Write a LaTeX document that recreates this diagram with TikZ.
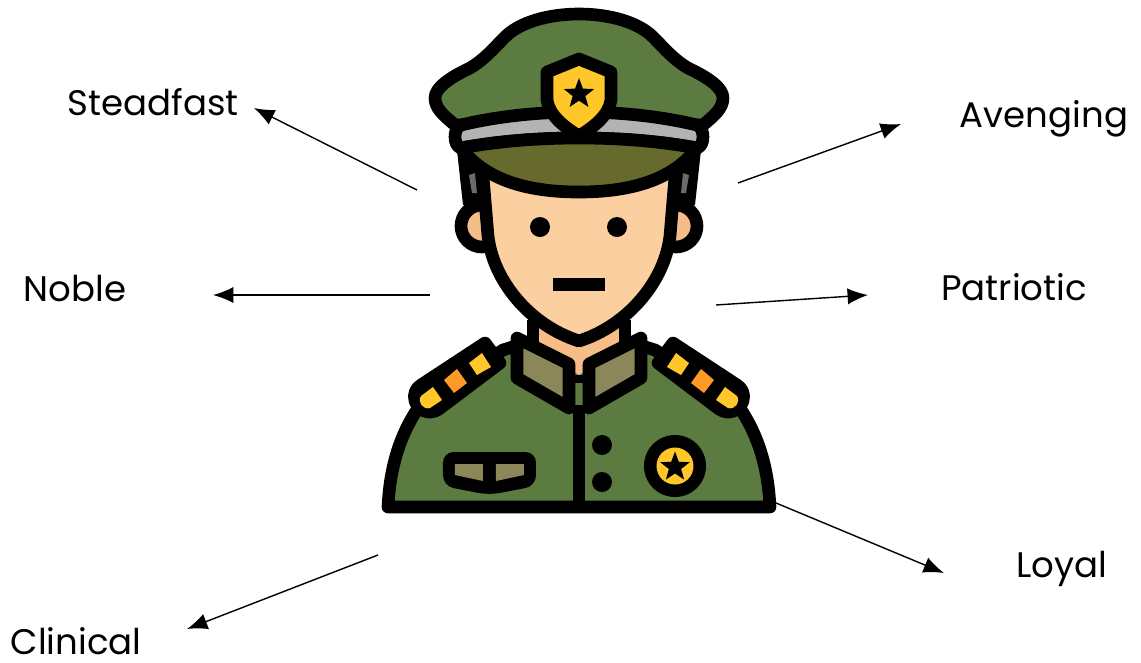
\documentclass[tikz,border=0pt]{standalone}
\usepackage{fontspec}
\setmainfont{Poppins}
\usetikzlibrary{arrows.meta,shapes.geometric}
\definecolor{armygreen}{RGB}{91,123,65}
\definecolor{visorgreen}{RGB}{102,106,44}
\definecolor{khaki}{RGB}{139,135,91}
\definecolor{skin}{RGB}{251,207,160}
\definecolor{skindark}{RGB}{247,189,137}
\definecolor{badgeyellow}{RGB}{255,199,41}
\definecolor{badgeorange}{RGB}{255,154,38}
\definecolor{bandgray}{RGB}{179,179,179}
\definecolor{hairgray}{RGB}{107,107,107}

\begin{document}
\begin{tikzpicture}[x=0.01cm, y=-0.01cm,
    outline/.style={draw=black, line width=3.6pt, line join=round},
    starmark/.style={star, star points=5, star point ratio=2.4, fill=black, inner sep=0pt},
    trait/.style={font=\fontsize{10.1pt}{12pt}\selectfont, text=black, inner sep=0pt},
    pointer/.style={-{Latex[length=5.8pt,width=4.6pt]}, line width=0.4pt}]

    \useasboundingbox (0,0) rectangle (1141,663);

    \begin{scope}[shift={(579,0)}]
    % Body
    \draw[outline, fill=armygreen] (-191,507) .. controls (-189,465) and (-178,430) .. (-155,400)
        -- (-76,350) -- (-60,345) -- (60,345) -- (76,350) -- (155,400)
        .. controls (178,430) and (189,465) .. (191,507) -- cycle;
    \draw[outline] (0,405) -- (0,507);
    \fill[skindark] (-46,320) -- (46,320) -- (46,345) -- (0,375) -- (-46,345) -- cycle;
    \draw[outline] (-46,320) -- (-46,345);
    \draw[outline] (46,320) -- (46,345);
    \draw[black, line width=2.3pt] (-10,379) -- (10,379);

    % Both sides of the figure: collar, epaulette, ear, hair
    \foreach \s in {1,-1} {
        \begin{scope}[xscale=\s]
        \draw[outline, fill=khaki] (-62,338) -- (-10,364) -- (-10,408) -- (-62,378) -- cycle;
        \draw[outline, fill=black] (-94,343) -- (-79,363) -- (-140,409)
            .. controls (-150,416) and (-161,410) .. (-164,401)
            .. controls (-166,394) and (-163,388) .. (-158,385) -- cycle;
        \fill[badgeyellow] (-110,363) -- (-97,353) -- (-88,367) -- (-102,375) -- cycle;
        \fill[badgeorange] (-135,380) -- (-122,369) -- (-112,383) -- (-125,393) -- cycle;
        \fill[badgeyellow] (-146,387) -- (-137,400) -- (-149,408)
            .. controls (-156,410) and (-162,402) .. (-158,396) -- cycle;
        \fill[black] (-122,150) -- (-116,205) -- (-90,205) -- (-90,150) -- cycle;
        \fill[hairgray] (-110,175) -- (-104,173) -- (-102,193) -- (-107,193) -- cycle;
        \draw[outline, fill=skindark] (-97,226) circle[radius=21];
        \end{scope}
    }

    % Face
    \draw[outline, fill=skin] (-97,165) -- (-91,236) .. controls (-86,280) and (-50,325) .. (0,341)
        .. controls (50,325) and (86,280) .. (91,236) -- (97,165) -- cycle;
    \fill[black] (-39,227) circle[radius=10];
    \fill[black] (38,227) circle[radius=10];
    \fill[black] (-26,278) rectangle (26,291);

    % Hat
    \draw[outline, fill=armygreen] (-124,125) .. controls (-136,115) and (-144,108) .. (-144,98)
        .. controls (-144,88) and (-130,78) .. (-109,68)
        .. controls (-95,60) and (-85,48) .. (-75,38)
        .. controls (-60,22) and (-30,14) .. (0,14)
        .. controls (30,14) and (60,22) .. (75,38)
        .. controls (85,48) and (95,60) .. (109,68)
        .. controls (130,78) and (144,88) .. (144,98)
        .. controls (144,108) and (136,115) .. (124,125) -- cycle;
    \draw[outline, fill=bandgray] (-118,125) .. controls (-80,116) and (-40,112) .. (0,112)
        .. controls (40,112) and (80,116) .. (118,125)
        .. controls (126,128) and (126,146) .. (118,148)
        .. controls (80,141) and (40,138) .. (0,138)
        .. controls (-40,138) and (-80,141) .. (-118,148)
        .. controls (-126,146) and (-126,128) .. (-118,125) -- cycle;
    \draw[outline, fill=visorgreen] (-118,148) .. controls (-80,141) and (-40,138) .. (0,138)
        .. controls (40,138) and (80,141) .. (118,148)
        .. controls (90,185) and (40,192) .. (0,192)
        .. controls (-40,192) and (-90,185) .. (-118,148) -- cycle;
    \draw[outline, fill=badgeyellow] (0,59) -- (32,72) -- (32,100)
        .. controls (30,115) and (15,127) .. (0,136)
        .. controls (-15,127) and (-30,115) .. (-32,100) -- (-32,72) -- cycle;
    \node[starmark, minimum size=0.32cm] (hatstar) at (0,94) {};

    % Jacket details
    \fill[black, rounded corners=3pt] (-136,452) -- (-43,452) -- (-43,486) -- (-90,495) -- (-136,486) -- cycle;
    \fill[khaki] (-124,464) -- (-96,464) -- (-96,481) -- (-124,475) -- cycle;
    \fill[khaki] (-83,464) -- (-55,464) -- (-55,475) -- (-83,481) -- cycle;
    \fill[black] (23,445) circle[radius=10];
    \fill[black] (23,482) circle[radius=10];
    \fill[black] (96,466) circle[radius=31];
    \fill[badgeyellow] (96,466) circle[radius=18.5];
    \node[starmark, minimum size=0.31cm] (medalstar) at (96,467) {};
    \end{scope}

    % Trait labels
    \node[trait] (steadfast) at (153,102) {Steadfast};
    \node[trait] (avenging) at (1044,119) {Avenging};
    \node[trait] (noble) at (75,289) {Noble};
    \node[trait] (patriotic) at (1014,287) {Patriotic};
    \node[trait] (clinical) at (76,641) {Clinical};
    \node[trait] (loyal) at (1062,569) {Loyal};

    % Pointers, tail and head of each
    \foreach \name/\xa/\ya/\xb/\yb in {steadfast/417/190/254/108, avenging/738/183/901/124,
        noble/430/295/213/295, patriotic/716/305/868/295,
        clinical/378/555/187/629, loyal/776/503/944/573} {
        \coordinate (\name tail) at (\xa,\ya);
        \coordinate (\name head) at (\xb,\yb);
        \draw[pointer] (\name tail) -- (\name head);
    }
\end{tikzpicture}
\end{document}
